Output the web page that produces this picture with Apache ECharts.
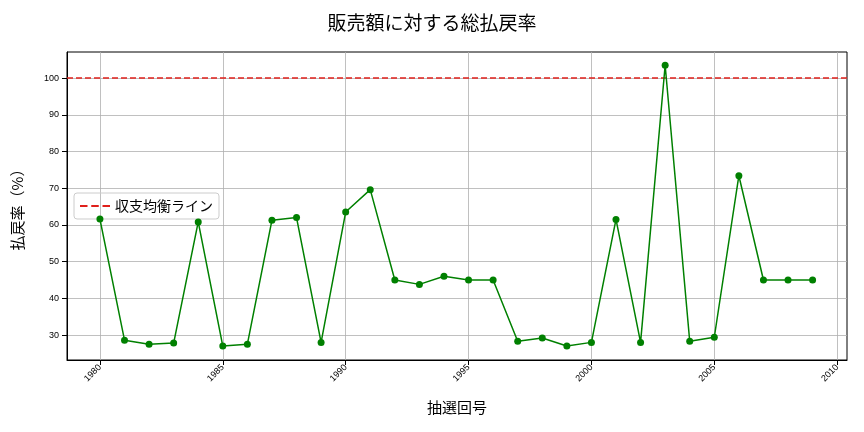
<!DOCTYPE html>
<html><head><meta charset="utf-8">
<script src="https://cdn.jsdelivr.net/npm/echarts@6/dist/echarts.min.js"></script>
<style>html,body{margin:0;padding:0;background:#fff}#c{width:864px;height:432px}</style>
</head><body><div id="c"></div>
<script>
const years=[1980,1981,1982,1983,1984,1985,1986,1987,1988,1989,1990,1991,1992,1993,1994,1995,1996,1997,1998,1999,2000,2001,2002,2003,2004,2005,2006,2007,2008,2009];
const rates=[61.6,28.6,27.5,27.8,60.8,27,27.5,61.3,62,28,63.5,69.6,45,43.8,46,45,45,28.3,29.2,27,28,61.5,28,103.5,28.3,29.4,73.4,45,45,45];
const xTicks=[1980,1985,1990,1995,2000,2005,2010];
const yTicks=[30,40,50,60,70,80,90,100];
const ff='"Noto Sans CJK JP", sans-serif';
const chart=echarts.init(document.getElementById('c'));
chart.setOption({
 animation:false,
 title:{text:'販売額に対する総払戻率',left:'center',top:8,textStyle:{fontFamily:ff,fontSize:19,fontWeight:'normal',color:'#000'}},
 grid:{left:67,right:17,top:52,bottom:72,show:true,borderColor:'#000',borderWidth:1},
 legend:{left:74,top:193,orient:'vertical',data:[{name:'収支均衡ライン',icon:'path://M0,0H8V2H0Z M12,0H20V2H12Z M24,0H32V2H24Z'}],itemWidth:30,itemHeight:3,
  borderColor:'#ccc',borderWidth:1,borderRadius:3,padding:[6,6],textStyle:{fontFamily:ff,fontSize:14,color:'#000'}},
 xAxis:{type:'value',min:1978.66,max:2010.4,
  axisLine:{lineStyle:{color:'#000'}},
  axisLabel:{rotate:45,fontSize:9,color:'#000',customValues:xTicks,formatter:v=>String(v),margin:6},
  axisTick:{show:true,customValues:xTicks,lineStyle:{color:'#000'}},
  splitLine:{show:false},
  name:'抽選回号',nameLocation:'middle',nameGap:40,nameTextStyle:{fontFamily:ff,fontSize:15,color:'#000'}},
 yAxis:{type:'value',min:23.2,max:107.1,
  axisLine:{show:true,lineStyle:{color:'#000'}},
  axisLabel:{fontSize:9,color:'#000',customValues:yTicks},
  axisTick:{show:true,customValues:yTicks,lineStyle:{color:'#000'}},
  splitLine:{show:false},
  name:'払戻率（%）',nameLocation:'middle',nameGap:42,nameTextStyle:{fontFamily:ff,fontSize:15,color:'#000'}},
 series:[
  {type:'line',name:'grid',data:[],silent:true,z:0,
   markLine:{symbol:'none',silent:true,z:0,label:{show:false},lineStyle:{color:'#b0b0b0',width:0.8,type:'solid'},
    data:xTicks.map(v=>({xAxis:v})).concat(yTicks.map(v=>({yAxis:v})))}},
  {type:'line',name:'払戻率',data:years.map((y,i)=>[y,rates[i]]),color:'green',z:5,
   lineStyle:{color:'green',width:1.5},symbol:'circle',symbolSize:7,itemStyle:{color:'green'}},
  {type:'line',name:'収支均衡ライン',data:[],color:'#e0201b',lineStyle:{color:'#e0201b',type:'dashed'},
   markLine:{symbol:'none',silent:true,label:{show:false},lineStyle:{color:'#e0201b',width:1.5,type:[6,3]},data:[{yAxis:100}]}}
 ]
});
</script></body></html>
